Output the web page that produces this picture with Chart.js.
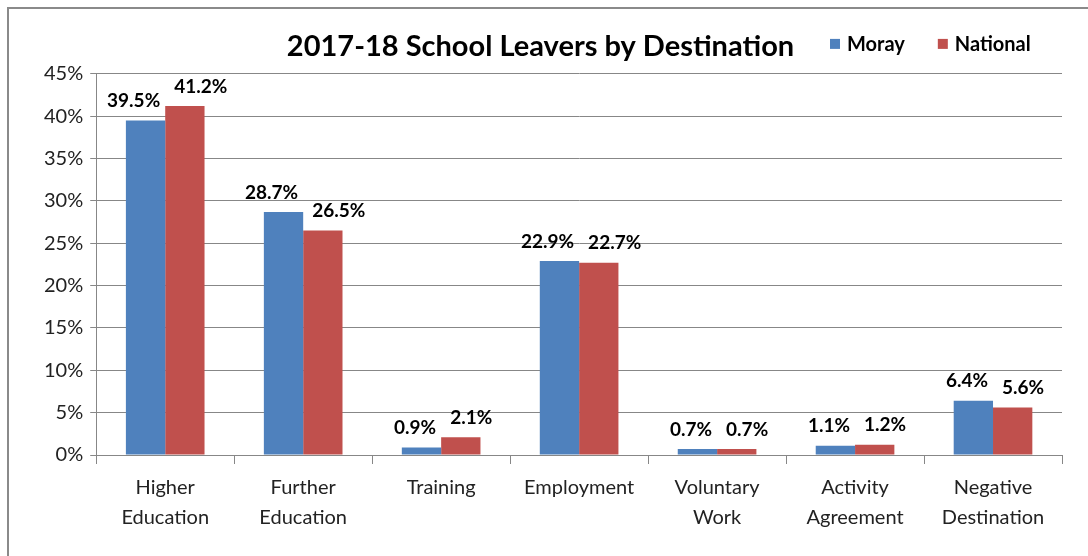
<!DOCTYPE html>
<html>
<head>
<meta charset="utf-8">
<script src="https://cdn.jsdelivr.net/npm/chart.js@4.4.1/dist/chart.umd.min.js"></script>
<style>
  html, body { margin: 0; padding: 0; background: #fff; overflow: hidden; }
  .frame {
    position: absolute; left: 7px; top: 7px;
    width: 1100px; height: 570px;
    border: 2px solid #8a8a8a;
  }
  #leaversChart { position: absolute; left: 1px; top: 1px; }
</style>
</head>
<body>
<div class="frame"><canvas id="leaversChart" width="1078" height="546"></canvas></div>
<script>
// Leaver destinations, percentages
const destinations = [
  ['Higher', 'Education'],
  ['Further', 'Education'],
  'Training',
  'Employment',
  ['Voluntary', 'Work'],
  ['Activity', 'Agreement'],
  ['Negative', 'Destination']
];
const morayValues = [39.5, 28.7, 0.9, 22.9, 0.7, 1.1, 6.4];
const nationalValues = [41.2, 26.5, 2.1, 22.7, 0.7, 1.2, 5.6];
const yTicks = [0, 5, 10, 15, 20, 25, 30, 35, 40, 45];

const FONT = 'Lato, "Open Sans", sans-serif';
const BLUE = '#4f81bd';
const RED = '#c0504d';
const GRID = '#878787';

// Value labels over each bar, pushed apart so pairs don't collide
const barLabels = {
  id: 'barLabels',
  afterDatasetsDraw(chart) {
    const ctx = chart.ctx;
    ctx.save();
    ctx.font = 'bold 19px ' + FONT;
    ctx.fillStyle = '#000';
    ctx.textBaseline = 'bottom';
    chart.data.datasets.forEach((ds, i) => {
      const meta = chart.getDatasetMeta(i);
      meta.data.forEach((bar, j) => {
        const text = ds.data[j].toFixed(1) + '%';
        if (i === 0) {
          ctx.textAlign = 'right';
          ctx.fillText(text, bar.x + bar.width / 2 - 5, bar.y - 10);
        } else {
          ctx.textAlign = 'left';
          ctx.fillText(text, bar.x - bar.width / 2 + 9, bar.y - 10);
        }
      });
    });
    ctx.restore();
  }
};

// Legend sits on the title line, to the right; title nudged a bit left
const inlineLegend = {
  id: 'inlineLegend',
  afterLayout(chart) {
    chart.titleBlock.left -= 9;
    chart.titleBlock.right -= 9;
  },
  afterDraw(chart) {
    const ctx = chart.ctx;
    const title = chart.titleBlock;
    const y = title.top + title.height / 2 + 2;
    ctx.save();
    ctx.font = 'bold 20px ' + FONT;
    ctx.textBaseline = 'middle';
    ctx.textAlign = 'left';
    let x = 820;
    chart.data.datasets.forEach(ds => {
      ctx.fillStyle = ds.backgroundColor;
      ctx.fillRect(x, y - 5, 10, 10);
      ctx.fillStyle = '#000';
      ctx.fillText(ds.label, x + 17, y + 1);
      x += 17 + ctx.measureText(ds.label).width + 33;
    });
    ctx.restore();
  }
};

new Chart(document.getElementById('leaversChart'), {
  type: 'bar',
  data: {
    labels: destinations,
    datasets: [
      { label: 'Moray', data: morayValues, backgroundColor: BLUE },
      { label: 'National', data: nationalValues, backgroundColor: RED }
    ]
  },
  options: {
    responsive: false,
    animation: false,
    layout: { padding: { left: 27, right: 26, bottom: 14 } },
    datasets: {
      bar: { categoryPercentage: 0.57, barPercentage: 1.0 }
    },
    plugins: {
      legend: { display: false },
      tooltip: { enabled: false },
      title: {
        display: true,
        text: '2017-18 School Leavers by Destination',
        color: '#000',
        font: { family: FONT, size: 29, weight: 'bold' },
        padding: { top: 19, bottom: 10 }
      }
    },
    scales: {
      x: {
        grid: {
          drawOnChartArea: false,
          drawTicks: true,
          tickLength: 9,
          color: GRID
        },
        border: { color: GRID, width: 1 },
        ticks: {
          color: '#222',
          font: { family: FONT, size: 20, lineHeight: 1.5 },
          padding: 9,
          maxRotation: 0,
          autoSkip: false
        }
      },
      y: {
        min: 0,
        max: 45,
        afterBuildTicks: scale => {
          scale.ticks = yTicks.map(v => ({ value: v }));
        },
        grid: { color: GRID, tickLength: 6 },
        border: { color: GRID, width: 1 },
        ticks: {
          color: '#222',
          font: { family: FONT, size: 20 },
          padding: 7,
          callback: v => v + '%'
        }
      }
    }
  },
  plugins: [barLabels, inlineLegend]
});
</script>
</body>
</html>
